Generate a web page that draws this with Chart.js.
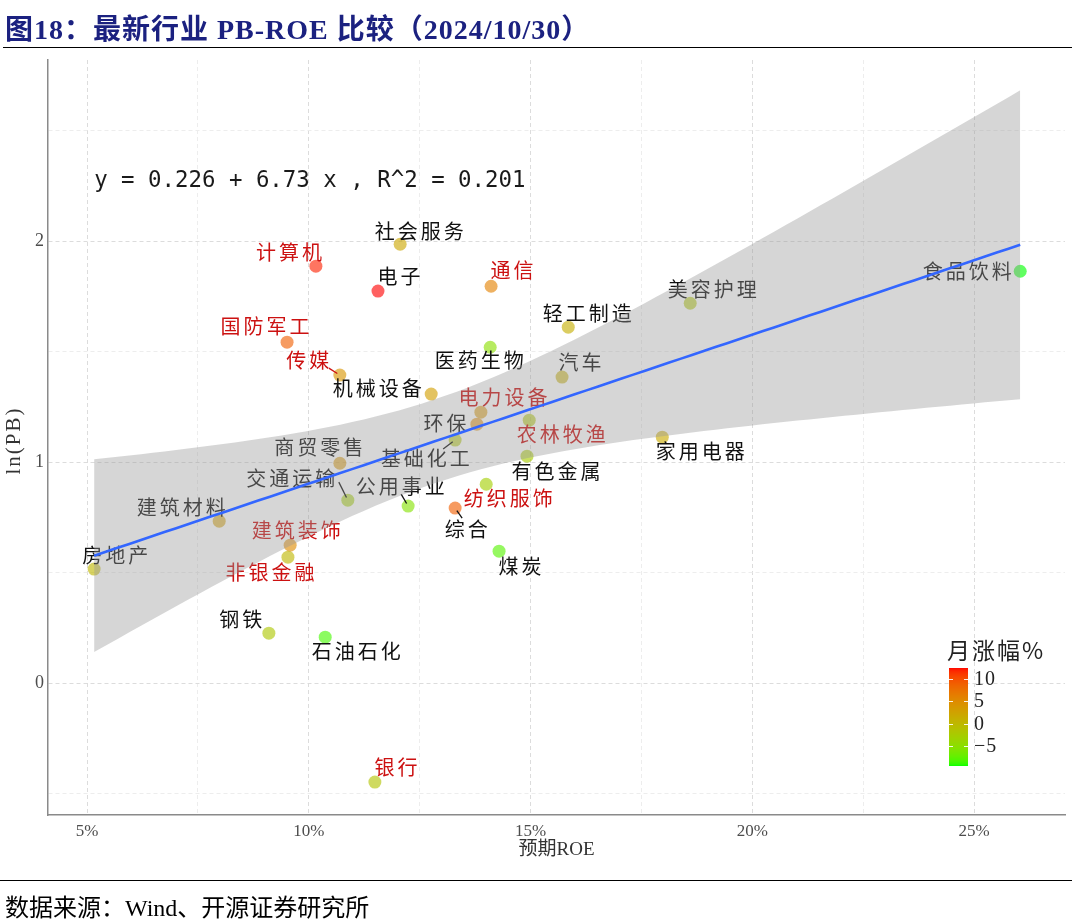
<!DOCTYPE html>
<html><head><meta charset="utf-8">
<script src="https://cdn.jsdelivr.net/npm/chart.js@4.4.1/dist/chart.umd.min.js"></script>
<style>
html,body{margin:0;padding:0;background:#fff;}
#wrap{position:relative;width:1072px;height:924px;overflow:hidden;background:#fff;}
#title{position:absolute;left:5px;top:7px;line-height:32px;font:bold 28px 'Liberation Serif','Noto Sans CJK SC',serif;letter-spacing:1px;color:#1b2180;white-space:nowrap;}
#tline{position:absolute;left:3px;right:0;top:47px;border-top:1.5px solid #000;}
#fline{position:absolute;left:0;right:0;top:880px;border-top:1.5px solid #000;}
#foot{position:absolute;left:5px;top:888px;line-height:28px;font:24px 'Liberation Serif','Noto Sans CJK SC',serif;color:#000;white-space:nowrap;}
#c{position:absolute;left:0;top:0;}
</style></head>
<body><div id="wrap">
<canvas id="c" width="1072" height="924"></canvas>
<div id="title">图18：最新行业 PB-ROE 比较（2024/10/30）</div>
<div id="tline"></div>
<div id="fline"></div>
<div id="foot">数据来源：Wind、开源证券研究所</div>
</div>
<script>
// ---- data ----
const industries = ['社会服务','计算机','电子','通信','轻工制造','美容护理','食品饮料','国防军工','医药生物','传媒','机械设备','汽车','电力设备','环保','农林牧渔','基础化工','家用电器','有色金属','商贸零售','交通运输','公用事业','纺织服饰','综合','建筑材料','建筑装饰','非银金融','房地产','煤炭','钢铁','石油石化','银行'];
const roe = [0.1206,0.1016,0.1156,0.1411,0.1585,0.1860,0.2604,0.0951,0.1409,0.1070,0.1276,0.1571,0.1388,0.1379,0.1497,0.1330,0.1797,0.1492,0.1070,0.1088,0.1224,0.1400,0.1330,0.0798,0.0958,0.0953,0.0516,0.1429,0.0910,0.1037,0.1149];
const lnPB = [1.986,1.887,1.774,1.796,1.611,1.719,1.864,1.543,1.520,1.394,1.308,1.385,1.226,1.172,1.190,1.100,1.113,1.027,0.995,0.828,0.801,0.900,0.792,0.733,0.624,0.570,0.516,0.597,0.226,0.208,-0.448];
const monthChg = [2,12,12.5,6,1,-2,-9.5,9,-5,4,3,1,4,5,-2,-2,1.5,-2.5,4,-3,-5.5,-3,9,3,5,0,0,-8,-2,-8.5,-1.5];
const redLabels = ['计算机','国防军工','传媒','通信','电力设备','农林牧渔','建筑装饰','非银金融','纺织服饰','银行'];
const xTicks = [0.05,0.075,0.10,0.125,0.15,0.175,0.20,0.225,0.25];
const xMajor = [0.05,0.10,0.15,0.20,0.25];
const yTicks = [-0.5,0,0.5,1,1.5,2,2.5];
const yMajor = [0,1,2];
const legendTicks = [10,5,0,-5];
const equationText = 'y = 0.226 + 6.73 x , R^2 = 0.201';

// ---- label layout (text centre offset from point, px) ----
const labelOffsets = {'社会服务':[19,-13],'计算机':[-27,-14],'电子':[21,-15],'通信':[21,-16],'轻工制造':[19,-14],'美容护理':[22,-14],'食品饮料':[-53,0],'国防军工':[-22,-16],'医药生物':[-11,13],'传媒':[-32,-15],'机械设备':[-54,-6],'汽车':[18,-15],'电力设备':[22,-15],'环保':[-32,-1],'农林牧渔':[32,14],'基础化工':[-30,18],'家用电器':[38,14],'有色金属':[29,15],'商贸零售':[-21,-16],'交通运输':[-57,-22],'公用事业':[-8,-20],'纺织服饰':[22,14],'综合':[11,21],'建筑材料':[-38,-14],'建筑装饰':[6,-15],'非银金融':[-18,15],'房地产':[21,-14],'煤炭':[21,15],'钢铁':[-28,-14],'石油石化':[31,14],'银行':[21,-15]};
const leaders = {'传媒':[-11,-7],'交通运输':[-9,-18],'公用事业':[-7,-12],'基础化工':[-12,9],'综合':[7,10]};

// ---- colour gradient (Lab, green -> red) ----
function lin(c){c/=255;return c<=0.04045?c/12.92:Math.pow((c+0.055)/1.055,2.4);}
function gam(c){c=c<=0.0031308?12.92*c:1.055*Math.pow(c,1/2.4)-0.055;return Math.max(0,Math.min(255,Math.round(c*255)));}
function toLab(r,g,b){const R=lin(r),G=lin(g),B=lin(b);
 const X=(0.4124564*R+0.3575761*G+0.1804375*B)/0.95047,Y=0.2126729*R+0.7151522*G+0.0721750*B,Z=(0.0193339*R+0.1191920*G+0.9503041*B)/1.08883;
 const f=t=>t>0.008856?Math.cbrt(t):7.787*t+16/116;const fx=f(X),fy=f(Y),fz=f(Z);
 return [116*fy-16,500*(fx-fy),200*(fy-fz)];}
function fromLab(L,a,b){const fy=(L+16)/116,fx=fy+a/500,fz=fy-b/200;
 const fi=t=>{const t3=t*t*t;return t3>0.008856?t3:(t-16/116)/7.787;};
 const X=fi(fx)*0.95047,Y=fi(fy),Z=fi(fz)*1.08883;
 return [gam(3.2404542*X-1.5371385*Y-0.4985314*Z),gam(-0.9692660*X+1.8760108*Y+0.0415560*Z),gam(0.0556434*X-0.2040259*Y+1.0572252*Z)];}
const labLow=toLab(0,255,0), labHigh=toLab(255,0,0);
function gradColor(t,alpha){const L=labLow.map((v,i)=>v+(labHigh[i]-v)*t);const c=fromLab(L[0],L[1],L[2]);return `rgba(${c[0]},${c[1]},${c[2]},${alpha})`;}
const vMin=Math.min(...monthChg), vMax=Math.max(...monthChg);
const pointColors = monthChg.map(v=>gradColor((v-vMin)/(vMax-vMin),0.62));

// ---- linear fit with 95% confidence band (as geom_smooth) ----
const n=roe.length;
const mx=roe.reduce((a,b)=>a+b,0)/n, my=lnPB.reduce((a,b)=>a+b,0)/n;
let sxx=0,sxy=0;roe.forEach((x,i)=>{sxx+=(x-mx)*(x-mx);sxy+=(x-mx)*(lnPB[i]-my);});
const slope=sxy/sxx, icpt=my-slope*mx;
let sse=0;roe.forEach((x,i)=>{const r=lnPB[i]-(icpt+slope*x);sse+=r*r;});
const sres=Math.sqrt(sse/(n-2)), tq=2.045;
const xLo=Math.min(...roe), xHi=Math.max(...roe);
const fitPts=[],upPts=[],loPts=[];
for(let k=0;k<80;k++){const x=xLo+(xHi-xLo)*k/79;const y=icpt+slope*x;const se=sres*Math.sqrt(1/n+(x-mx)*(x-mx)/sxx);
 fitPts.push({x,y});upPts.push({x,y:y+tq*se});loPts.push({x,y:y-tq*se});}

// ---- plugins ----
const serif="'Liberation Serif','Noto Sans CJK SC',serif";
const labelPlugin={id:'lbl',afterDatasetDraw(chart,args){
 if(args.index!==0)return;
 const ctx=chart.ctx,xs=chart.scales.x,ys=chart.scales.y;
 ctx.save();
 ctx.font="20px 'Noto Sans CJK SC'";ctx.letterSpacing='3px';ctx.textAlign='center';ctx.textBaseline='middle';
 industries.forEach((nm,i)=>{
  const px=xs.getPixelForValue(roe[i]),py=ys.getPixelForValue(lnPB[i]);
  const col=redLabels.includes(nm)?'#cc1111':'#111111';
  if(leaders[nm]){const [dx,dy]=leaders[nm];const d=Math.hypot(dx,dy);
   ctx.strokeStyle=col;ctx.lineWidth=1.3;ctx.beginPath();ctx.moveTo(px+dx,py+dy);ctx.lineTo(px+dx/d*3,py+dy/d*3);ctx.stroke();}
  const o=labelOffsets[nm];ctx.fillStyle=col;ctx.fillText(nm,px+o[0]+1.5,py+o[1]);
 });
 ctx.restore();}};
const overlayPlugin={id:'ovl',afterDraw(chart){
 const ctx=chart.ctx,xs=chart.scales.x,ys=chart.scales.y,ca=chart.chartArea;
 ctx.save();
 // y axis title
 ctx.save();ctx.translate(14,(ca.top+ca.bottom)/2+4);ctx.rotate(-Math.PI/2);
 ctx.font="21px 'Liberation Serif',serif";ctx.letterSpacing='2px';ctx.fillStyle='#333';ctx.textAlign='center';ctx.textBaseline='middle';
 ctx.fillText('ln(PB)',1,0);ctx.restore();
 // equation
 ctx.font="22.4px 'DejaVu Sans Mono',monospace";ctx.fillStyle='#1a1a1a';ctx.textAlign='left';ctx.textBaseline='middle';
 ctx.fillText(equationText,xs.getPixelForValue(xLo),ys.getPixelForValue(2.27));
 // colour bar legend
 const x0=949,w=19,top=668,bot=766;
 for(let y=top;y<bot;y++){const t=1-(y+0.5-top)/(bot-top);ctx.fillStyle=gradColor(t,1);ctx.fillRect(x0,y,w,1);}
 ctx.font="20px 'Liberation Serif',serif";ctx.textBaseline='middle';ctx.textAlign='left';ctx.letterSpacing='1px';
 legendTicks.forEach(v=>{const y=Math.round(bot-(v-vMin)/(vMax-vMin)*(bot-top))+0.5;
  ctx.strokeStyle='rgba(255,255,255,0.9)';ctx.lineWidth=1;ctx.beginPath();ctx.moveTo(x0,y);ctx.lineTo(x0+4,y);ctx.moveTo(x0+w-4,y);ctx.lineTo(x0+w,y);ctx.stroke();
  ctx.fillStyle='#222';ctx.fillText(v<0?'\u2212'+Math.abs(v):String(v),x0+w+6,y);});
 ctx.font="23px 'Noto Sans CJK SC','Liberation Serif',serif";ctx.letterSpacing='2px';ctx.fillStyle='#222';ctx.textAlign='left';
 ctx.fillText('月涨幅%',947,650);
 ctx.restore();}};

const isIn=(arr,v)=>arr.some(a=>Math.abs(a-v)<1e-9);
new Chart(document.getElementById('c'),{
 type:'scatter',
 data:{datasets:[
  {label:'行业',data:roe.map((x,i)=>({x,y:lnPB[i]})),backgroundColor:pointColors,borderWidth:0,pointRadius:6.5,order:10},
  {type:'line',label:'upper',data:upPts,borderWidth:0,pointRadius:0,fill:false,order:5},
  {type:'line',label:'lower',data:loPts,borderWidth:0,pointRadius:0,fill:'-1',backgroundColor:'rgba(153,153,153,0.4)',order:4},
  {type:'line',label:'fit',data:fitPts,borderColor:'#3366FF',borderWidth:2.6,pointRadius:0,fill:false,order:1}
 ]},
 options:{
  responsive:false,animation:false,devicePixelRatio:1,
  layout:{padding:{top:60,right:7,bottom:59,left:0}},
  plugins:{legend:{display:false},tooltip:{enabled:false}},
  scales:{
   x:{type:'linear',min:0.0412,max:0.2705,
    afterBuildTicks:s=>{s.ticks=xTicks.map(v=>({value:v}));},
    afterFit:s=>{s.height=50;},
    ticks:{padding:6,color:'#4d4d4d',font:{family:serif,size:17},autoSkip:false,maxRotation:0,
     callback:v=>isIn(xMajor,v)?Math.round(v*100)+'%':''},
    grid:{drawTicks:false,lineWidth:1,color:c=>isIn(xMajor,c.tick.value)?'#dcdcdc':'#ededed'},
    border:{display:true,color:'#8a8a8a',width:1.5,dash:[4,3]},
    title:{display:true,text:'预期ROE',color:'#333',font:{family:serif,size:19},padding:{top:0,bottom:4}}},
   y:{type:'linear',min:-0.597,max:2.82,
    afterBuildTicks:s=>{s.ticks=yTicks.map(v=>({value:v}));},
    afterFit:s=>{s.width=48;},
    ticks:{padding:4,color:'#4d4d4d',font:{family:serif,size:18},autoSkip:false,
     callback:v=>isIn(yMajor,v)?String(v):''},
    grid:{drawTicks:false,lineWidth:1,color:c=>isIn(yMajor,c.tick.value)?'#dcdcdc':'#ededed'},
    border:{display:true,color:'#8a8a8a',width:1.5,dash:[4,3]},
    title:{display:false}}
  }
 },
 plugins:[labelPlugin,overlayPlugin]
});
</script>
</body></html>
